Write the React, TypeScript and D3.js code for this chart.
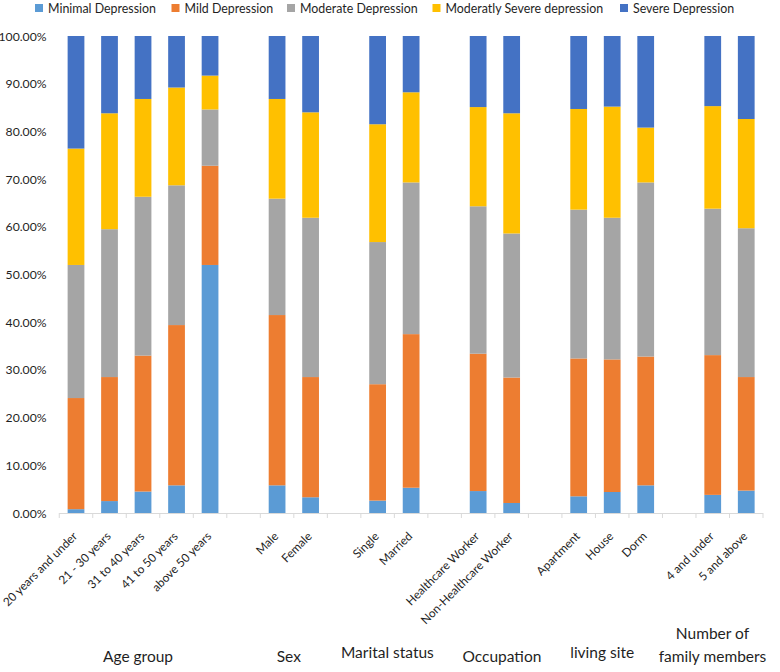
import React from "react";
import * as d3 from "d3";

const categories = [
  "20 years and under", "21 - 30 years", "31 to 40 years", "41 to 50 years", "above 50 years",
  "Male", "Female",
  "Single", "Married",
  "Healthcare Worker", "Non-Healthcare Worker",
  "Apartment", "House", "Dorm",
  "4 and under", "5 and above",
];
const groupNames = [["Age group"], ["Sex"], ["Marital status"], ["Occupation"], ["living site"], ["Number of", "family members"]];
const groupSizes = [5, 2, 2, 2, 3, 2];

const seriesNames = ["Minimal Depression", "Mild Depression", "Moderate Depression", "Moderatly Severe depression", "Severe Depression"];
const minimal = [0.8, 2.5, 4.5, 5.8, 52.0, 5.8, 3.3, 2.6, 5.3, 4.6, 2.1, 3.5, 4.4, 5.8, 3.8, 4.7];
const mild = [23.3, 26.0, 28.5, 33.6, 20.8, 35.7, 25.2, 24.4, 32.2, 28.8, 26.3, 28.9, 27.8, 27.0, 29.3, 23.8];
const moderate = [27.9, 31.0, 33.3, 29.3, 11.8, 24.4, 33.4, 29.8, 31.8, 30.9, 30.2, 31.2, 29.7, 36.5, 30.7, 31.2];
const modSevere = [24.4, 24.3, 20.5, 20.5, 7.1, 20.9, 22.1, 24.7, 18.9, 20.8, 25.2, 21.1, 23.3, 11.5, 21.5, 22.9];
const severe = [23.6, 16.2, 13.2, 10.8, 8.3, 13.2, 16.0, 18.5, 11.8, 14.9, 16.2, 15.3, 14.8, 19.2, 14.7, 17.4];
const yTicks = [0, 10, 20, 30, 40, 50, 60, 70, 80, 90, 100];

const colors = ["#5B9BD5", "#ED7D31", "#A5A5A5", "#FFC000", "#4472C4"];
const FONT = "Lato, 'Open Sans', sans-serif";
const TXT = "#1f1f1f";

export default function App() {
  const W = 780, H = 672;
  const x0 = 59.25, x1 = 763, yBase = 513, yTop = 36;

  const slots: string[] = [];
  const groupSlots: string[][] = [];
  let ci = 0;
  groupSizes.forEach((n, gi) => {
    const g: string[] = [];
    for (let i = 0; i < n; i++) { slots.push(categories[ci]); g.push(categories[ci]); ci++; }
    groupSlots.push(g);
    if (gi < groupSizes.length - 1) slots.push("__gap" + gi);
  });

  const x = d3.scaleBand<string>().domain(slots).range([x0, x1]).paddingInner(0.5).paddingOuter(0.25);
  const y = d3.scaleLinear().domain([0, 100]).range([yBase, yTop]);
  const step = x.step();

  const seriesValues = [minimal, mild, moderate, modSevere, severe];
  const rows = categories.map((c, i) => {
    const r: any = { cat: c };
    seriesNames.forEach((s, k) => (r[s] = seriesValues[k][i]));
    return r;
  });
  const stacked = d3.stack<any>().keys(seriesNames)(rows);

  const legendX = [35, 171.5, 287, 432.5, 620];
  const groupDx = [-5, -5, -7, 7, -10, -17];
  const groupY = [657, 657, 653, 657, 653, 657];

  return (
    <svg width={W} height={H} style={{ position: "absolute", left: 0, top: 0, background: "#fff" }} fontFamily={FONT}>
      {seriesNames.map((s, k) => (
        <g key={s}>
          <rect x={legendX[k]} y={4} width={8} height={8} fill={colors[k]} />
          <text x={legendX[k] + 13} y={12.5} fontSize={12.4} fill={TXT}>{s}</text>
        </g>
      ))}
      {yTicks.map((t) => (
        <text key={t} x={46.5} y={y(t) + 4.5} fontSize={12.2} textAnchor="end" fill={TXT}>
          {t.toFixed(2) + "%"}
        </text>
      ))}
      {stacked.map((layer, k) => (
        <g key={layer.key} fill={colors[k]}>
          {layer.map((d, i) => (
            <rect key={i} x={x(categories[i])} width={x.bandwidth()} y={y(d[1])} height={y(d[0]) - y(d[1])} />
          ))}
        </g>
      ))}
      <line x1={x0} x2={x1} y1={yBase + 0.5} y2={yBase + 0.5} stroke="#D9D9D9" />
      {d3.range(slots.length + 1).map((i) => (
        <line key={i} x1={x0 + i * step} x2={x0 + i * step} y1={yBase} y2={yBase + 5} stroke="#D9D9D9" />
      ))}
      {categories.map((c) => {
        const cx = (x(c) as number) + x.bandwidth() / 2 + 2;
        const cy = yBase + 24;
        return (
          <text key={c} x={cx} y={cy} fontSize={11.8} textAnchor="end" fill={TXT} transform={`rotate(-45 ${cx} ${cy})`}>
            {c}
          </text>
        );
      })}
      {groupNames.map((lines, gi) => {
        const g = groupSlots[gi];
        const cx = ((x(g[0]) as number) + (x(g[g.length - 1]) as number) + x.bandwidth()) / 2 + groupDx[gi];
        return (
          <text key={gi} x={cx} fontSize={15.5} textAnchor="middle" fill={TXT}>
            {lines.map((l, li) => (
              <tspan key={li} x={cx} y={groupY[gi] + 5 - (lines.length - 1 - li) * 23}>{l}</tspan>
            ))}
          </text>
        );
      })}
    </svg>
  );
}
